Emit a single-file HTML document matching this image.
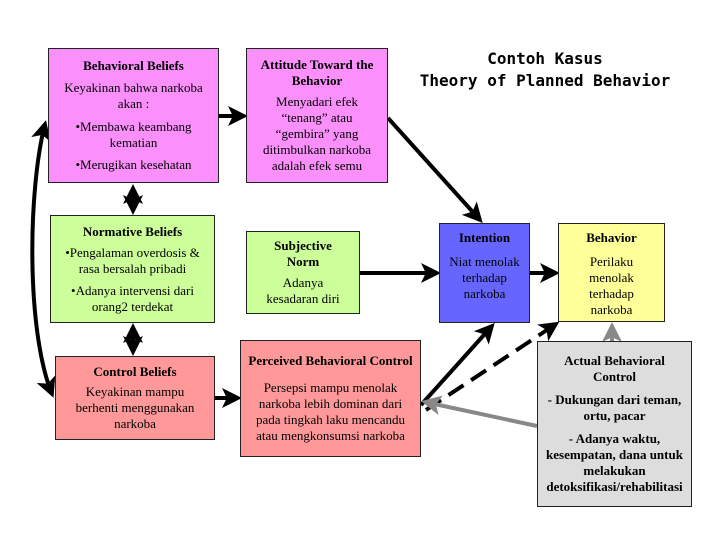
<!DOCTYPE html>
<html><head><style>
body{margin:0;width:720px;height:540px;background:#fff;position:relative;overflow:hidden;font-family:"Liberation Serif",serif;font-size:13px;color:#000}
.b{position:absolute;border:1px solid #222;box-sizing:border-box;text-align:center;line-height:16px;display:flex;flex-direction:column;justify-content:space-evenly;padding:2px 10px}
.b p{margin:0}
.t{font-weight:bold}
#title{position:absolute;left:405px;top:48px;width:280px;text-align:center;font-family:"DejaVu Sans Mono",monospace;font-size:16px;line-height:22px;font-weight:bold}
svg{position:absolute;left:0;top:0}
</style></head><body>
<svg width="720" height="540">
<defs>
<marker id="a" markerWidth="5" markerHeight="5" refX="4" refY="2.5" orient="auto-start-reverse" markerUnits="strokeWidth"><path d="M0,0 L5,2.5 L0,5 L1.2,2.5z" fill="#000"/></marker>
<marker id="g" markerWidth="5" markerHeight="5" refX="4" refY="2.5" orient="auto" markerUnits="strokeWidth"><path d="M0,0 L5,2.5 L0,5 L1.2,2.5z" fill="#888"/></marker>
</defs>
<g stroke="#000" stroke-width="4" fill="none">
<line x1="219" y1="116" x2="244" y2="116" marker-end="url(#a)"/>
<line x1="388" y1="118" x2="480" y2="220" marker-end="url(#a)"/>
<line x1="360" y1="273" x2="437" y2="273" marker-end="url(#a)"/>
<line x1="530" y1="273" x2="556" y2="273" marker-end="url(#a)"/>
<line x1="215" y1="398" x2="238" y2="398" marker-end="url(#a)"/>
<line x1="421" y1="405" x2="492" y2="326" marker-end="url(#a)"/>
<line x1="426" y1="410" x2="556" y2="324" stroke-dasharray="18,9" marker-end="url(#a)"/>
<line x1="133" y1="188" x2="133" y2="211" marker-start="url(#a)" marker-end="url(#a)"/>
<line x1="133" y1="327" x2="133" y2="352" marker-start="url(#a)" marker-end="url(#a)"/>
<path d="M45,124 C28,190 26,330 52,394" marker-start="url(#a)" marker-end="url(#a)"/>
</g>
<g stroke="#888" stroke-width="4" fill="none">
<line x1="537" y1="426" x2="425" y2="402" marker-end="url(#g)"/>
<line x1="612" y1="341" x2="612" y2="326" marker-end="url(#g)"/>
</g>
</svg>
<div class="b" style="left:48px;top:48px;width:171px;height:135px;background:#fb8ffb"><p class="t">Behavioral Beliefs</p><p>Keyakinan bahwa narkoba akan :</p><p>•Membawa keambang kematian</p><p>•Merugikan kesehatan</p></div>
<div class="b" style="left:246px;top:48px;width:142px;height:135px;background:#fb8ffb;padding:2px 6px"><p class="t">Attitude Toward the Behavior</p><p>Menyadari efek “tenang” atau “gembira” yang ditimbulkan narkoba adalah efek semu</p></div>
<div class="b" style="left:50px;top:215px;width:165px;height:108px;background:#ccff99"><p class="t">Normative Beliefs</p><p>•Pengalaman overdosis &amp; rasa bersalah pribadi</p><p>•Adanya intervensi dari orang2 terdekat</p></div>
<div class="b" style="left:246px;top:231px;width:114px;height:83px;background:#ccff99;padding:2px 14px"><p class="t">Subjective Norm</p><p>Adanya kesadaran diri</p></div>
<div class="b" style="left:55px;top:356px;width:160px;height:84px;background:#ff9999;padding:2px 14px"><p class="t">Control Beliefs</p><p>Keyakinan mampu berhenti menggunakan narkoba</p></div>
<div class="b" style="left:240px;top:340px;width:181px;height:117px;background:#ff9999;padding:2px 6px"><p class="t">Perceived Behavioral Control</p><p>Persepsi mampu menolak narkoba lebih dominan dari pada tingkah laku mencandu atau mengkonsumsi narkoba</p></div>
<div class="b" style="left:439px;top:223px;width:91px;height:100px;background:#6666ff;justify-content:flex-start;padding:6px 8px"><p class="t" style="margin-bottom:8px">Intention</p><p>Niat menolak terhadap narkoba</p></div>
<div class="b" style="left:558px;top:223px;width:107px;height:99px;background:#ffff99;justify-content:flex-start;padding:6px 18px"><p class="t" style="margin-bottom:8px">Behavior</p><p>Perilaku menolak terhadap narkoba</p></div>
<div class="b" style="left:537px;top:341px;width:155px;height:166px;background:#dddddd;font-weight:bold;padding:4px 6px"><p>Actual Behavioral Control</p><p>- Dukungan dari teman, ortu, pacar</p><p>- Adanya waktu, kesempatan, dana untuk melakukan detoksifikasi/rehabilitasi</p></div>
<div id="title">Contoh Kasus<br>Theory of Planned Behavior</div>
</body></html>
